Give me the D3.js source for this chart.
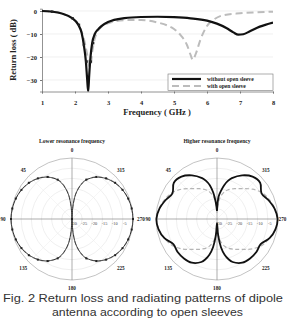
<!DOCTYPE html>
<html>
<head>
<meta charset="utf-8">
<script src="https://cdn.jsdelivr.net/npm/d3@7"></script>
<style>
  body { margin: 0; background: #fff; }
  svg { display: block; }
  .serif { font-family: "Liberation Serif", "DejaVu Serif", serif; font-weight: bold; fill: #222; }
</style>
</head>
<body>
<div id="myChart"></div>
<script>
// ---- return loss data ----
let freqWithout = [1, 1.3, 1.6, 1.9, 2.1, 2.2, 2.27, 2.33, 2.37, 2.4, 2.43, 2.47, 2.52, 2.6, 2.7, 2.8, 3.0, 3.5, 4.0, 4.5, 5.0, 5.5, 6.0, 6.3, 6.6, 6.8, 6.95, 7.1, 7.3, 7.6, 8.0];
let lossWithout = [0, -0.3, -1.1, -3, -6, -9.5, -15, -22, -30, -35, -28, -20, -14, -10, -8, -6.6, -4.8, -3.1, -2.6, -2.5, -2.7, -3.2, -4.2, -5.5, -7.5, -9.3, -10.3, -10.1, -8.8, -6.8, -5];
let freqWith = [1, 1.3, 1.6, 1.9, 2.1, 2.2, 2.3, 2.37, 2.43, 2.47, 2.52, 2.6, 2.7, 2.85, 3.0, 3.5, 4.0, 4.5, 4.8, 5.0, 5.2, 5.4, 5.5, 5.57, 5.65, 5.8, 6.0, 6.2, 6.5, 7.0, 7.5, 8.0];
let lossWith = [0, -0.3, -1.1, -3, -6, -9, -14, -19, -24, -24, -18, -12, -8.5, -6.3, -5.3, -4, -3.9, -5, -6.3, -7.8, -10.5, -15, -19, -21.2, -19, -12.5, -6.5, -3.8, -1.8, -1, -0.6, -0.3];
let markerFreq = [1.31, 1.93, 2.12, 2.27, 2.35, 2.48, 2.55];
let markerLoss = [-0.3, -3.2, -6, -14.8, -22, -22, -14];
let xTicks = [1, 2, 3, 4, 5, 6, 7, 8];
let yTicks = [0, -10, -20, -30];
let seriesNames = ["without open sleeve", "with open sleeve"];

// ---- radiation pattern data (angle in degrees, counter-clockwise from top; dB) ----
let angles = [0, 4, 8, 12, 16, 20, 30, 40, 50, 60, 70, 80, 90, 100, 110, 120, 130, 140, 150, 160, 164, 168, 172, 176, 180,
              184, 188, 192, 196, 200, 210, 220, 230, 240, 250, 260, 270, 280, 290, 300, 310, 320, 330, 340, 344, 348, 352, 356, 360];
let lowerWithout = [-30, -24, -18, -14.5, -11.6, -9.5, -6.2, -4, -2.4, -1.3, -0.6, -0.2, 0, -0.2, -0.6, -1.3, -2.4, -4, -6.2, -9.5, -11.6, -14.5, -18, -24, -30,
                    -24, -18, -14.5, -11.6, -9.5, -6.2, -4, -2.4, -1.3, -0.6, -0.2, 0, -0.2, -0.6, -1.3, -2.4, -4, -6.2, -9.5, -11.6, -14.5, -18, -24, -30];
let lowerWith = [-30, -24, -18, -14.4, -11.5, -9.4, -6.1, -3.9, -2.3, -1.3, -0.6, -0.2, 0, -0.2, -0.6, -1.3, -2.3, -3.9, -6.1, -9.4, -11.5, -14.4, -18, -24, -30,
                 -24, -18, -14.4, -11.5, -9.4, -6.1, -3.9, -2.3, -1.3, -0.6, -0.2, 0, -0.2, -0.6, -1.3, -2.3, -3.9, -6.1, -9.4, -11.5, -14.4, -18, -24, -30];
let higherWithout = [-26, -22, -17, -13, -10.5, -8.6, -5.2, -2.8, -2.3, -4.7, -3, -1.2, -0.2, -0.8, -2.5, -5.2, -4.7, -4.7, -5.2, -7.5, -9.4, -12, -16, -22, -28,
                     -22, -16, -12, -9.4, -7.5, -5.2, -4.7, -4.7, -5.2, -2.5, -0.8, -0.2, -1.2, -3, -4.7, -2.3, -2.8, -5.2, -8.6, -10.5, -13, -16, -19, -26];
let higherWith = [-27, -23, -19.5, -17.5, -16, -14.8, -12.8, -10.5, -7.2, -4.3, -2.5, -1, -0.2, -1, -2.5, -4.3, -7.2, -10.5, -12.8, -14.8, -16, -17.5, -19.5, -23, -27,
                  -23, -19.5, -17.5, -16, -14.8, -12.8, -10.5, -7.2, -4.3, -2.5, -1, -0.2, -1, -2.5, -4.3, -7.2, -10.5, -12.8, -14.8, -16, -17.5, -19.5, -23, -27];
let ringTicks = [-30, -25, -20, -15, -10, -5];
let angleLabels = [0, 45, 90, 135, 180, 225, 270, 315];

let W = 288, H = 321;
let svg = d3.select("#myChart").append("svg")
    .attr("width", W)
    .attr("height", H);

// ================= return loss chart =================
let x = d3.scaleLinear().domain([1, 8]).range([42, 273]);
let y = d3.scaleLinear().domain([-35, 1]).range([91.5, 8.7]);

svg.append("clipPath").attr("id", "plotClip")
    .append("rect").attr("x", 42).attr("y", 8.7).attr("width", 231).attr("height", 82.8);

// gridlines
svg.append("g").selectAll("line")
    .data(yTicks)
    .enter().append("line")
    .attr("x1", 42).attr("x2", 273)
    .attr("y1", d => y(d)).attr("y2", d => y(d))
    .attr("stroke", "#e6e6e6").attr("stroke-width", 0.6);

let xAxis = svg.append("g")
    .attr("transform", "translate(0," + 91.5 + ")")
    .call(d3.axisBottom(x).tickValues(xTicks).tickSize(2).tickFormat(d3.format("d")));
let yAxis = svg.append("g")
    .attr("transform", "translate(42,0)")
    .call(d3.axisLeft(y).tickValues(yTicks).tickSize(2).tickFormat(d3.format("d")));
[xAxis, yAxis].forEach(function(a) {
    a.select(".domain").attr("stroke", "#777").attr("stroke-width", 0.8);
    a.selectAll(".tick line").attr("stroke", "#777");
    a.selectAll("text").attr("class", "serif")
        .style("font-size", "6.5px")
        .style("font-family", "Liberation Serif, serif")
        .style("font-weight", "bold")
        .attr("fill", "#222");
});
xAxis.selectAll("text").attr("dy", "1.3em");

let line = d3.line()
    .x(d => x(d[0]))
    .y(d => y(d[1]))
    .curve(d3.curveMonotoneX);

let plot = svg.append("g").attr("clip-path", "url(#plotClip)");
plot.append("path")
    .datum(d3.zip(freqWith, lossWith))
    .attr("d", line)
    .attr("fill", "none")
    .attr("stroke", "#bcbcbc")
    .attr("stroke-width", 2)
    .attr("stroke-dasharray", "7,4");
plot.append("path")
    .datum(d3.zip(freqWithout, lossWithout))
    .attr("d", line)
    .attr("fill", "none")
    .attr("stroke", "#111")
    .attr("stroke-width", 2.2);
plot.selectAll(".mk")
    .data(d3.zip(markerFreq, markerLoss))
    .enter().append("rect")
    .attr("class", "mk")
    .attr("x", d => x(d[0]) - 1.2)
    .attr("y", d => y(d[1]) - 1.2)
    .attr("width", 2.4).attr("height", 2.4)
    .attr("fill", "#222");

// axis titles
svg.append("text")
    .attr("class", "serif")
    .attr("transform", "translate(16,50) rotate(-90)")
    .style("text-anchor", "middle")
    .style("font-size", "8.5px")
    .text("Return loss ( dB)");
svg.append("text")
    .attr("class", "serif")
    .attr("x", 157).attr("y", 115)
    .style("text-anchor", "middle")
    .style("font-size", "8.5px")
    .text("Frequency ( GHz )");

// legend
let lg = svg.append("g");
lg.append("rect")
    .attr("x", 168).attr("y", 74).attr("width", 105).attr("height", 16.5)
    .attr("fill", "#fff").attr("stroke", "#777").attr("stroke-width", 0.6);
lg.append("line").attr("x1", 172).attr("x2", 201).attr("y1", 79).attr("y2", 79)
    .attr("stroke", "#111").attr("stroke-width", 2.2);
lg.append("line").attr("x1", 172).attr("x2", 201).attr("y1", 86).attr("y2", 86)
    .attr("stroke", "#bcbcbc").attr("stroke-width", 2).attr("stroke-dasharray", "7,4");
lg.selectAll("text")
    .data(seriesNames)
    .enter().append("text")
    .attr("class", "serif")
    .attr("x", 207)
    .attr("y", (d, i) => 81 + i * 7)
    .style("font-size", "5.6px")
    .text(d => d);

// ================= radiation patterns =================
let R = 61;
let r = d3.scaleLinear().domain([-30, 0]).range([0, R]).clamp(true);

function polar(cx, title, dataA, dataB, thick, markers) {
    let g = svg.append("g").attr("transform", "translate(" + cx + ",219)");
    g.append("text")
        .attr("class", "serif")
        .attr("y", -76)
        .style("text-anchor", "middle")
        .style("font-size", "5.6px")
        .text(title);
    // rings
    g.selectAll(".ring")
        .data(ringTicks.slice(1))
        .enter().append("circle")
        .attr("r", d => r(d))
        .attr("fill", "none")
        .attr("stroke", "#dedede")
        .attr("stroke-width", 0.5);
    g.append("circle").attr("r", R).attr("fill", "none").attr("stroke", "#9a9a9a").attr("stroke-width", 0.6);
    // spokes
    g.selectAll(".spoke")
        .data([45, 135, 225, 315])
        .enter().append("line")
        .attr("x2", d => -R * Math.sin(d * Math.PI / 180))
        .attr("y2", d => -R * Math.cos(d * Math.PI / 180))
        .attr("stroke", "#ececec").attr("stroke-width", 0.5);
    g.append("line").attr("x1", -R).attr("x2", R).attr("stroke", "#777").attr("stroke-width", 0.6);
    g.append("line").attr("y1", -R).attr("y2", R).attr("stroke", "#777").attr("stroke-width", 0.6);
    // ring labels
    g.selectAll(".rl")
        .data(ringTicks)
        .enter().append("text")
        .attr("x", d => r(d) + 2)
        .attr("y", 6)
        .style("text-anchor", "middle")
        .style("font-family", "Liberation Serif, serif")
        .style("font-size", "4.3px")
        .attr("fill", "#444")
        .text(d => d);
    // angle labels (keep the right-hand one inside the page)
    g.selectAll(".al")
        .data(angleLabels)
        .enter().append("text")
        .attr("class", "serif")
        .attr("x", function(d) {
            let px = -69 * Math.sin(d * Math.PI / 180);
            return Math.min(px, W - 1 - cx - 4.5);
        })
        .attr("y", d => -69 * Math.cos(d * Math.PI / 180))
        .attr("dy", "0.35em")
        .style("text-anchor", "middle")
        .style("font-size", "5.2px")
        .style("font-weight", "bold")
        .text(d => d);

    let radial = d3.lineRadial()
        .angle(d => -d[0] * Math.PI / 180)
        .radius(d => r(d[1]))
        .curve(d3.curveCatmullRom);

    g.append("path")
        .datum(d3.zip(angles, dataB))
        .attr("d", radial)
        .attr("fill", "none")
        .attr("stroke", "#b5b5b5")
        .attr("stroke-width", 1.2)
        .attr("stroke-dasharray", "4,2.5");
    g.append("path")
        .datum(d3.zip(angles, dataA))
        .attr("d", radial)
        .attr("fill", "none")
        .attr("stroke", "#111")
        .attr("stroke-width", thick);
    if (markers) {
        g.selectAll(".pm")
            .data(d3.zip(angles, dataB).filter(d => d[0] % 10 === 0))
            .enter().append("rect")
            .attr("x", d => -r(d[1]) * Math.sin(d[0] * Math.PI / 180) - 1)
            .attr("y", d => -r(d[1]) * Math.cos(d[0] * Math.PI / 180) - 1)
            .attr("width", 2).attr("height", 2)
            .attr("fill", "#222");
    }
}

polar(72, "Lower resonance frequency", lowerWithout, lowerWith, 0.8, true);
polar(217, "Higher resonance frequency", higherWithout, higherWith, 1.8, false);

// caption
let caption = ["Fig. 2 Return loss and radiating patterns of dipole", "antenna according to open sleeves"];
svg.selectAll(".cap")
    .data(caption)
    .enter().append("text")
    .attr("x", (d, i) => i === 0 ? 3 : 52)
    .attr("y", (d, i) => 302 + i * 14)
    .attr("textLength", (d, i) => i === 0 ? 280 : 191)
    .attr("lengthAdjust", "spacingAndGlyphs")
    .style("font-family", "Liberation Sans, Arial, sans-serif")
    .style("font-size", "11.5px")
    .attr("fill", "#333")
    .text(d => d);
</script>
</body>
</html>
